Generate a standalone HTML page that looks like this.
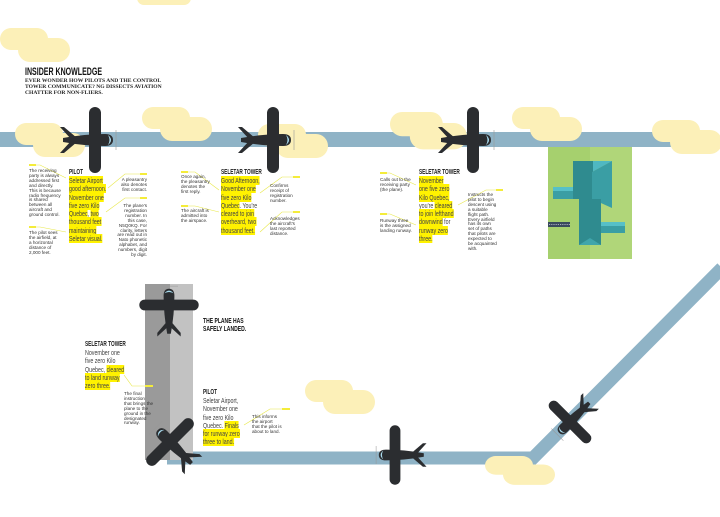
<!DOCTYPE html>
<html><head><meta charset="utf-8">
<style>
html,body{margin:0;padding:0;background:#fff;}
#w{position:relative;width:720px;height:517px;overflow:hidden;background:#fff;font-family:"Liberation Sans",sans-serif;color:#333;}
svg{position:absolute;left:0;top:0;}
.t{position:absolute;white-space:nowrap;transform-origin:0 0;}
.h{font-weight:bold;font-size:7px;color:#222;transform:scaleX(0.68);}
.b{font-size:7.2px;line-height:8.3px;color:#444;transform:scaleX(0.74);}
.b span{background:#fff200;}
.n{font-size:4.6px;line-height:4.9px;color:#333;}
.r{text-align:right;}
</style></head><body><div id="w">
<svg width="720" height="517" viewBox="0 0 720 517">
<defs>
<g id="cl"><rect x="0" y="0" width="48" height="22" rx="11" fill="#fcf0b8"/><rect x="18" y="10" width="52" height="24" rx="12" fill="#fcf0b8"/></g>
<g id="pl">
<path d="M-32,-2 Q-10,-6 10,-6 Q18,-6 18,0 Q18,6 10,6 Q-10,6 -32,2 Z" fill="#2b2d30"/>
<path d="M-24,-1 L-35,-13 L-31,-13 L-18,-2 Z" fill="#2b2d30"/>
<path d="M-24,1 L-35,13 L-31,13 L-18,2 Z" fill="#2b2d30"/>
<path d="M13,-5 Q19,0 13,5 Q16,0 13,-5 Z" fill="#a9dcef"/>
<line x1="21" y1="-10" x2="21" y2="10" stroke="#999" stroke-width="0.6"/>
<rect x="-6" y="-33" width="12" height="66" rx="6" fill="#2b2d30"/>
</g>
</defs>
<use href="#cl" x="0" y="28"/>
<rect x="137" y="-10" width="54" height="15" rx="7" fill="#fcf0b8"/>
<rect x="0" y="132" width="690" height="15" fill="#8fb3c6"/>
<use href="#cl" x="15" y="123"/>
<use href="#cl" x="142" y="107"/>
<use href="#cl" x="258" y="124"/>
<use href="#cl" x="390" y="112" transform="translate(390,112) scale(1.1) translate(-390,-112)"/>
<use href="#cl" x="512" y="107"/>
<use href="#cl" x="652" y="120"/>
<!-- green airfield -->
<rect x="548" y="147" width="84" height="112" fill="#a6d06e"/>
<rect x="590" y="147" width="42" height="112" fill="#b0d679"/>
<rect x="548" y="222" width="22" height="5" fill="#3a4a5e"/>
<line x1="549" y1="224.5" x2="570" y2="224.5" stroke="#ccd" stroke-width="0.7" stroke-dasharray="1.2 1"/>
<polygon points="573,161 612,161 592,172" fill="#4fb8c2"/>
<rect x="573" y="161" width="20" height="38" fill="#2f8b8f"/>
<polygon points="592,172 612,161 612,208 592,199" fill="#3a9ea4"/>
<rect x="579" y="199" width="22" height="46" fill="#2f8b8f"/>
<polygon points="579,245 601,245 590,238" fill="#40a5ab"/>
<rect x="553" y="187" width="20" height="12" fill="#3a9ea4"/><rect x="553" y="187" width="20" height="4" fill="#56c0c8"/>
<rect x="601" y="222" width="24" height="11" fill="#3a9ea4"/><rect x="601" y="222" width="24" height="4" fill="#56c0c8"/>
<!-- bottom path -->
<polyline points="167,458 533,458 722,268" fill="none" stroke="#8fb3c6" stroke-width="13"/>
<rect x="145" y="284" width="25" height="176" fill="#9a9a9a"/>
<rect x="170" y="284" width="23" height="176" fill="#c2c2c2"/>
<use href="#cl" x="305" y="380"/>
<use href="#cl" x="485" y="456" transform="translate(485,456) scale(1,0.85) translate(-485,-456)"/>
<!-- planes -->
<use href="#pl" transform="translate(95,140)"/>
<use href="#pl" transform="translate(273,140)"/>
<use href="#pl" transform="translate(473,140)"/>
<use href="#pl" transform="translate(169,305) rotate(-90) scale(0.9)"/>
<use href="#pl" transform="translate(170,442) rotate(-135) scale(0.95)"/>
<use href="#pl" transform="translate(395,455) rotate(180) scale(0.9)"/>
<use href="#pl" transform="translate(570,422) rotate(135) scale(0.85)"/>
<!-- leader lines -->
<g stroke="#e8e84a" stroke-width="0.6" fill="none">
<polyline points="29,165 40,165 66,178"/><polyline points="29,227 40,227 66,232"/>
<polyline points="140,174 125,174 108,188"/><polyline points="140,198 125,198 106,212"/>
<polyline points="181,172 195,172 219,190"/><polyline points="181,206 195,206 219,212"/>
<polyline points="293,177 282,177 260,193"/><polyline points="293,212 282,212 260,232"/>
<polyline points="380,173 390,173 416,185"/><polyline points="380,214 390,214 416,225"/>
<polyline points="496,190 486,190 458,205"/>
<polyline points="150,386 132,386 124,375"/><polyline points="287,409 270,409 244,425"/>
</g>
<g fill="#f4ec3a">
<rect x="29" y="164" width="7" height="2"/><rect x="29" y="226" width="7" height="2"/>
<rect x="140" y="173" width="7" height="2"/><rect x="140" y="197" width="7" height="2"/>
<rect x="181" y="171" width="7" height="2"/><rect x="181" y="205" width="7" height="2"/>
<rect x="293" y="176" width="7" height="2"/><rect x="293" y="211" width="7" height="2"/>
<rect x="380" y="172" width="7" height="2"/><rect x="380" y="213" width="7" height="2"/>
<rect x="496" y="189" width="7" height="2"/>
<rect x="145" y="385" width="8" height="2"/><rect x="282" y="408" width="8" height="2"/>
</g>
</svg>

<div class="t" style="left:25px;top:66px;font-weight:bold;font-size:11px;color:#111;transform:scaleX(0.64);">INSIDER KNOWLEDGE</div>
<div class="t" style="left:25px;top:78px;font-family:'Liberation Serif',serif;font-weight:bold;font-size:5.6px;line-height:6px;color:#222;">EVER WONDER HOW PILOTS AND THE CONTROL<br>TOWER COMMUNICATE? NG DISSECTS AVIATION<br>CHATTER FOR NON-FLIERS.</div>

<div class="t n" style="left:29px;top:169px;">The receiving<br>party is always<br>addressed first<br>and directly.<br>This is because<br>radio frequency<br>is shared<br>between all<br>aircraft and<br>ground control.</div>
<div class="t n" style="left:29px;top:231px;">The pilot sees<br>the airfield, at<br>a horizontal<br>distance of<br>2,000 feet.</div>
<div class="t h" style="left:69px;top:169px;">PILOT</div>
<div class="t b" style="left:69px;top:177px;"><span>Seletar Airport</span><br><span>good afternoon.</span><br><span>November one</span><br><span>five zero Kilo</span><br><span>Quebec</span>, <span>two</span><br><span>thousand feet</span><br><span>maintaining</span><br><span>Seletar visual.</span></div>
<div class="t n r" style="left:113px;width:34px;top:178px;">A pleasantry<br>also denotes<br>first contact.</div>
<div class="t n r" style="left:107px;width:40px;top:204px;">The plane's<br>registration<br>number. In<br>this case,<br>N5Q0KQ. For<br>clarity, letters<br>are read out in<br>Nato phonetic<br>alphabet, and<br>numbers, digit<br>by digit.</div>

<div class="t n" style="left:181px;top:175px;">Once again,<br>the pleasantry<br>denotes the<br>first reply.</div>
<div class="t n" style="left:181px;top:209px;">The aircraft is<br>admitted into<br>the airspace.</div>
<div class="t h" style="left:221px;top:169px;">SELETAR TOWER</div>
<div class="t b" style="left:221px;top:177px;"><span>Good Afternoon,</span><br><span>November one</span><br><span>five zero Kilo</span><br><span>Quebec</span>. You're<br><span>cleared to join</span><br><span>overheard, two</span><br><span>thousand feet.</span></div>
<div class="t n" style="left:270px;top:184px;">Confirms<br>receipt of<br>registration<br>number.</div>
<div class="t n" style="left:270px;top:217px;">Acknowledges<br>the aircraft's<br>last reported<br>distance.</div>

<div class="t n" style="left:380px;top:178px;">Calls out to the<br>receiving party<br>(the plane).</div>
<div class="t n" style="left:380px;top:219px;">Runway three<br>is the assigned<br>landing runway.</div>
<div class="t h" style="left:419px;top:169px;">SELETAR TOWER</div>
<div class="t b" style="left:419px;top:177px;"><span>November</span><br><span>one five zero</span><br><span>Kilo Quebec,</span><br>you're <span>cleared</span><br><span>to join lefthand</span><br><span>downwind</span> for<br><span>runway zero</span><br><span>three.</span></div>
<div class="t n" style="left:468px;top:193px;">Instructs the<br>pilot to begin<br>descent using<br>a suitable<br>flight path.<br>Every airfield<br>has its own<br>set of paths<br>that pilots are<br>expected to<br>be acquainted<br>with.</div>

<div class="t" style="left:203px;top:318px;font-weight:bold;font-size:7px;line-height:7.5px;color:#111;transform:scaleX(0.72);">THE PLANE HAS<br>SAFELY LANDED.</div>
<div class="t h" style="left:85px;top:341px;">SELETAR TOWER</div>
<div class="t b" style="left:85px;top:349px;">November one<br>five zero Kilo<br>Quebec, <span>cleared</span><br><span>to land runway</span><br><span>zero three.</span></div>
<div class="t n" style="left:124px;top:392px;">The final<br>instruction<br>that brings the<br>plane to the<br>ground in the<br>designated<br>runway.</div>
<div class="t h" style="left:203px;top:389px;">PILOT</div>
<div class="t b" style="left:203px;top:397px;">Seletar Airport,<br>November one<br>five zero Kilo<br>Quebec. <span>Finals</span><br><span>for runway zero</span><br><span>three to land.</span></div>
<div class="t n" style="left:252px;top:415px;">This informs<br>the airport<br>that the pilot is<br>about to land.</div>
</div></body></html>
